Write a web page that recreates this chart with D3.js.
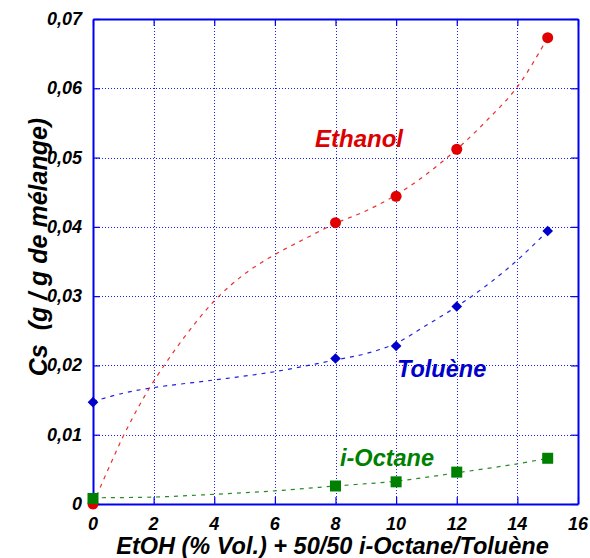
<!DOCTYPE html>
<html>
<head>
<meta charset="utf-8">
<script src="https://cdn.jsdelivr.net/npm/d3@7"></script>
<style>
  html, body { margin: 0; padding: 0; background: #fff; }
  svg text { font-family: Arial, "Liberation Sans", sans-serif; font-weight: bold; font-style: italic; }
</style>
</head>
<body>
<svg id="chart" width="590" height="558"></svg>
<script>
// Measured EtOH contents (% vol.)
const xMeasured = [0, 8, 10, 12, 15];
// Solubility Cs (g / g de mélange) for each component
const ethanolValues = [0.0, 0.0406, 0.0444, 0.0512, 0.0673];
const tolueneValues = [0.0147, 0.0210, 0.0228, 0.0285, 0.0394];
const octaneValues  = [0.0008, 0.0026, 0.0032, 0.0046, 0.0066];

// Fitted trend curves (dashed)
const ethanolFitX = [0, 0.5, 1, 1.5, 2, 3, 4, 5, 6, 7, 8, 9, 10, 11, 12, 13, 14, 15];
const ethanolFitY = [0.0, 0.0050, 0.0098, 0.0140, 0.0177, 0.0240, 0.0293, 0.0332, 0.0360, 0.0383, 0.0405, 0.0423, 0.0446, 0.0476, 0.0512, 0.0554, 0.0602, 0.0673];
const tolueneFitX = [0, 1, 2, 4, 6, 8, 9, 10, 11, 12, 13, 14, 15];
const tolueneFitY = [0.0148, 0.0160, 0.0168, 0.0179, 0.0191, 0.0208, 0.0217, 0.0232, 0.0258, 0.0285, 0.0316, 0.0352, 0.0394];
const octaneFitX  = [0, 2, 4, 6, 8, 10, 12, 14, 15];
const octaneFitY  = [0.0009, 0.0010, 0.0014, 0.0019, 0.0026, 0.0033, 0.0045, 0.0058, 0.0066];

// Axis ticks
const xTicks = [0, 2, 4, 6, 8, 10, 12, 14, 16];
const yTicks = [0, 0.01, 0.02, 0.03, 0.04, 0.05, 0.06, 0.07];

const svg = d3.select("#chart");
const plot = { left: 93, right: 578, top: 19, bottom: 504 };

const x = d3.scaleLinear().domain([0, 16]).range([plot.left, plot.right]);
const y = d3.scaleLinear().domain([0, 0.07]).range([plot.bottom, plot.top]);
const px = v => Math.round(v) + 0.5;

const fmtY = d => d === 0 ? "0" : d3.format(".2f")(d).replace(".", ",");

const gridColor = "#1a1aff";
const axisColor = "#0000ee";

// Dotted grid
const grid = svg.append("g").attr("shape-rendering", "crispEdges");
grid.selectAll("line.gx").data(xTicks.slice(1, -1)).join("line")
  .attr("x1", d => px(x(d))).attr("x2", d => px(x(d)))
  .attr("y1", plot.top).attr("y2", plot.bottom)
  .attr("stroke", gridColor).attr("stroke-width", 1).attr("stroke-dasharray", "1,2");
grid.selectAll("line.gy").data(yTicks.slice(1, -1)).join("line")
  .attr("y1", d => px(y(d))).attr("y2", d => px(y(d)))
  .attr("x1", plot.left).attr("x2", plot.right)
  .attr("stroke", gridColor).attr("stroke-width", 1).attr("stroke-dasharray", "1,2");

// Axes with inward ticks on all four sides
const tickLen = 7;
const axB = d3.axisBottom(x).tickValues(xTicks).tickSizeInner(-tickLen).tickSizeOuter(0).tickFormat("");
const axT = d3.axisTop(x).tickValues(xTicks).tickSizeInner(-tickLen).tickSizeOuter(0).tickFormat("");
const axL = d3.axisLeft(y).tickValues(yTicks).tickSizeInner(-tickLen).tickSizeOuter(0).tickFormat("");
const axR = d3.axisRight(y).tickValues(yTicks).tickSizeInner(-tickLen).tickSizeOuter(0).tickFormat("");
[[axB, `translate(0,${plot.bottom})`], [axT, `translate(0,${plot.top})`],
 [axL, `translate(${plot.left},0)`], [axR, `translate(${plot.right},0)`]].forEach(([ax, tr]) => {
  const g = svg.append("g").attr("transform", tr).call(ax);
  g.select(".domain").attr("stroke", axisColor).attr("stroke-width", 2);
  g.selectAll(".tick line").attr("stroke", axisColor).attr("stroke-width", 1.2);
});

// Tick labels
svg.append("g").selectAll("text").data(xTicks).join("text")
  .attr("x", d => x(d)).attr("y", 530)
  .attr("text-anchor", "middle").attr("font-size", 18).attr("fill", "#000")
  .text(d => d);
svg.append("g").selectAll("text").data(yTicks).join("text")
  .attr("x", 82).attr("y", d => y(d) + 6)
  .attr("text-anchor", "end").attr("font-size", 18).attr("fill", "#000")
  .text(fmtY);

// Axis titles
svg.append("text")
  .attr("x", (plot.left + plot.right) / 2 - 3).attr("y", 554)
  .attr("text-anchor", "middle").attr("font-size", 23.5).attr("fill", "#000")
  .text("EtOH (% Vol.) + 50/50 i-Octane/Toluène");
svg.append("text")
  .attr("transform", "translate(47,247) rotate(-90)")
  .attr("text-anchor", "middle").attr("font-size", 25).attr("fill", "#000")
  .style("white-space", "pre")
  .text("Cs  (g / g de mélange)");

// Fit curves
const line = d3.line().x(d => x(d[0])).y(d => y(d[1])).curve(d3.curveCatmullRom);
const fits = [
  { xs: ethanolFitX, ys: ethanolFitY, color: "#e83030" },
  { xs: tolueneFitX, ys: tolueneFitY, color: "#2020dd" },
  { xs: octaneFitX,  ys: octaneFitY,  color: "#2a8a2a" }
];
fits.forEach(f => {
  svg.append("path")
    .datum(f.xs.map((v, i) => [v, f.ys[i]]))
    .attr("d", line)
    .attr("fill", "none").attr("stroke", f.color)
    .attr("stroke-width", 1.2).attr("stroke-dasharray", "4,5");
});

// Markers
svg.append("g").selectAll("circle").data(xMeasured).join("circle")
  .attr("cx", d => x(d)).attr("cy", (d, i) => y(ethanolValues[i]))
  .attr("r", 5.5).attr("fill", "#e00000");
svg.append("g").selectAll("path").data(xMeasured).join("path")
  .attr("transform", (d, i) => `translate(${x(d)},${y(tolueneValues[i])})`)
  .attr("d", d3.symbol(d3.symbolDiamond2, 72)).attr("fill", "#0000cc");
svg.append("g").selectAll("rect").data(xMeasured).join("rect")
  .attr("x", d => x(d) - 5.5).attr("y", (d, i) => y(octaneValues[i]) - 5.5)
  .attr("width", 11).attr("height", 11).attr("fill", "#008000");

// Series labels
svg.append("text").attr("x", 315).attr("y", 147).attr("font-size", 24)
  .attr("fill", "#dd0000").text("Ethanol");
svg.append("text").attr("x", 397).attr("y", 377).attr("font-size", 23.5)
  .attr("fill", "#0000cc").text("Toluène");
svg.append("text").attr("x", 340).attr("y", 466).attr("font-size", 23.5)
  .attr("fill", "#008000").text("i-Octane");
</script>
</body>
</html>
